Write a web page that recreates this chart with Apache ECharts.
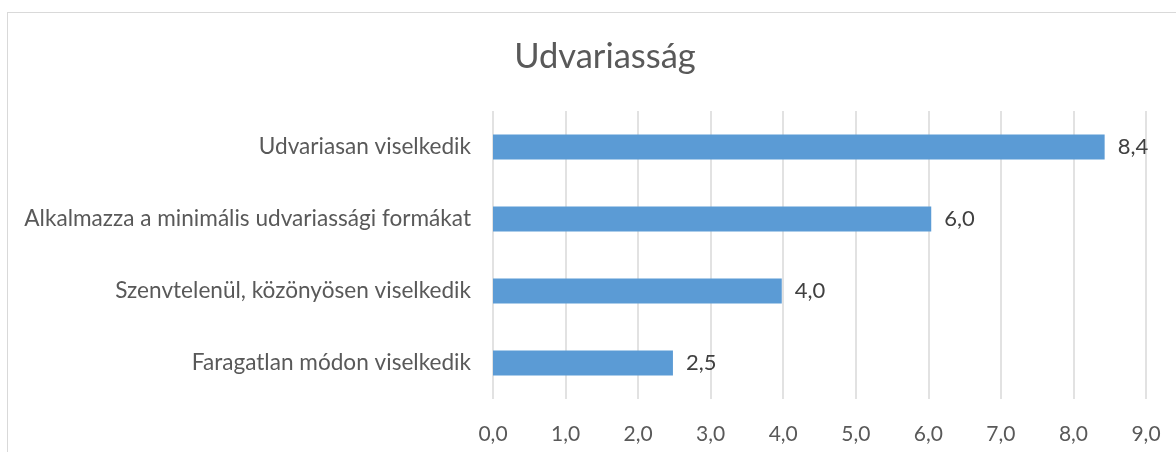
<!DOCTYPE html>
<html><head><meta charset="utf-8">
<script src="https://cdn.jsdelivr.net/npm/echarts@6/dist/echarts.min.js"></script>
<style>
html,body{margin:0;padding:0;background:#fff;}
#frame{position:absolute;left:7px;top:12px;width:1200px;height:500px;border:1px solid #d9d9d9;box-sizing:border-box;}
#c{position:absolute;left:0;top:0;width:1176px;height:452px;}
</style></head><body>
<div id="frame"></div>
<div id="c"></div>
<script>
const categories = ["Faragatlan módon viselkedik","Szenvtelenül, közönyösen viselkedik","Alkalmazza a minimális udvariassági formákat","Udvariasan viselkedik"];
const values = [2.48, 3.98, 6.04, 8.43];
const chart = echarts.init(document.getElementById('c'));
const fmt = v => v.toFixed(1).replace('.', ',');
const FF = 'Lato';
chart.setOption({
  animation:false,
  title:{text:'Udvariasság',left:600,top:34,textAlign:'center',textStyle:{fontFamily:FF,fontSize:34.5,fontWeight:'normal',color:'#595959'}},
  grid:{left:493,right:30,top:111,bottom:53,containLabel:false},
  xAxis:{type:'value',min:0,max:9,interval:1,
    axisLine:{show:false},axisTick:{show:false},
    splitLine:{lineStyle:{color:'#d9d9d9',width:1.5}},
    axisLabel:{formatter:fmt,fontFamily:FF,fontSize:21,color:'#595959',margin:25}},
  yAxis:{type:'category',data:categories,
    axisLine:{show:false},axisTick:{show:false},
    axisLabel:{fontFamily:FF,fontSize:22.6,color:'#595959',margin:22}},
  series:[{type:'bar',data:values,barWidth:25,itemStyle:{color:'#5B9BD5'},
    label:{show:true,position:'right',distance:13,formatter:p=>fmt(p.value),fontFamily:FF,fontSize:22,color:'#404040'}}]
});
</script></body></html>
